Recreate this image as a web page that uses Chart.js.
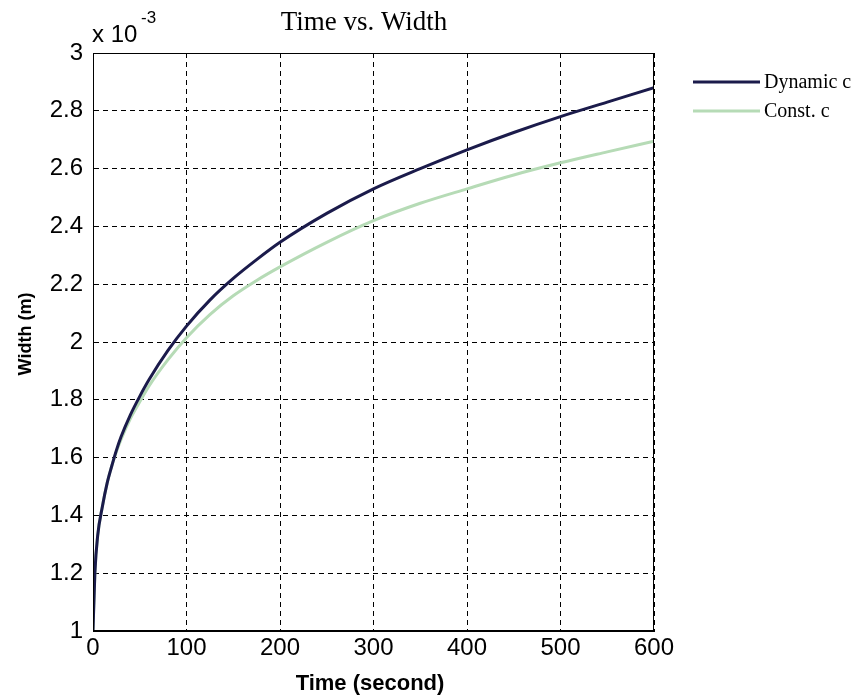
<!DOCTYPE html>
<html>
<head>
<meta charset="utf-8">
<script src="https://cdn.jsdelivr.net/npm/chart.js@4/dist/chart.umd.min.js"></script>
<style>
  html, body { margin: 0; padding: 0; background: #fff; }
  #wrap { width: 864px; height: 700px; }
</style>
</head>
<body>
<div id="wrap"><canvas id="width-chart" width="864" height="700"></canvas></div>
<script>
// time (second)
const timeSet = [0, 2, 5, 10, 15, 20, 25, 30, 40, 50, 60, 80, 100, 125, 150, 175, 200, 250, 300, 350, 400, 450, 500, 550, 600];
// width, in units of 1e-3 m
const dynamicSet = [1.0, 1.2, 1.33, 1.43, 1.51, 1.57, 1.625, 1.672, 1.748, 1.812, 1.87, 1.97, 2.055, 2.145, 2.22, 2.285, 2.345, 2.445, 2.53, 2.60, 2.665, 2.725, 2.78, 2.83, 2.88];
const constSet = [1.0, 1.2, 1.33, 1.43, 1.51, 1.57, 1.62, 1.663, 1.735, 1.793, 1.848, 1.938, 2.015, 2.095, 2.16, 2.213, 2.26, 2.345, 2.42, 2.48, 2.53, 2.578, 2.62, 2.658, 2.695];
const seriesLabels = ['Dynamic c', 'Const. c'];
const seriesColors = ['#1b1b4b', '#b6dbb6'];

const SANS = '"Liberation Sans", Arial, sans-serif';
const SERIF = '"Liberation Serif", "Times New Roman", serif';

function toPoints(ys) {
    return timeSet.map((t, i) => ({ x: t, y: ys[i] }));
}

// texts, box and legend drawn like the matlab figure
const figurePlugin = {
    id: 'figure',
    afterDraw(chart) {
        const ctx = chart.ctx;
        const a = chart.chartArea;
        ctx.save();
        // box
        ctx.strokeStyle = '#000';
        ctx.lineWidth = 1;
        ctx.setLineDash([]);
        ctx.strokeRect(a.left + 0.5, a.top + 0.5, a.right - a.left - 1, a.bottom - a.top - 1);

        ctx.fillStyle = '#000';
        // title
        ctx.font = '27px ' + SERIF;
        ctx.textAlign = 'center';
        ctx.textBaseline = 'alphabetic';
        ctx.fillText('Time vs. Width', 364, 30);

        // exponent
        ctx.textAlign = 'left';
        ctx.font = '24px ' + SANS;
        ctx.fillText('x 10', 92, 42);
        ctx.font = '17px ' + SANS;
        ctx.fillText('-3', 141, 23);

        // axis titles
        ctx.font = 'bold 22px ' + SANS;
        ctx.textAlign = 'center';
        ctx.fillText('Time (second)', 370, 690);
        ctx.save();
        ctx.translate(31, 334);
        ctx.rotate(-Math.PI / 2);
        ctx.font = 'bold 18px ' + SANS;
        ctx.fillText('Width (m)', 0, 0);
        ctx.restore();

        // legend
        ctx.font = '20px ' + SERIF;
        ctx.textAlign = 'left';
        ctx.textBaseline = 'middle';
        const ly = [82, 111];
        seriesLabels.forEach((lab, i) => {
            ctx.strokeStyle = seriesColors[i];
            ctx.lineWidth = 3;
            ctx.beginPath();
            ctx.moveTo(693, ly[i]);
            ctx.lineTo(760, ly[i]);
            ctx.stroke();
            ctx.fillText(lab, 764, ly[i] + 1);
        });
        ctx.restore();
    }
};

let ctx = document.getElementById('width-chart');
new Chart(ctx, {
    type: 'line',
    data: {
        datasets: [
            {
                label: seriesLabels[0],
                data: toPoints(dynamicSet),
                borderColor: seriesColors[0],
                borderWidth: 3,
                pointRadius: 0,
                fill: false,
                cubicInterpolationMode: 'monotone'
            },
            {
                label: seriesLabels[1],
                data: toPoints(constSet),
                borderColor: seriesColors[1],
                borderWidth: 3,
                pointRadius: 0,
                fill: false,
                cubicInterpolationMode: 'monotone'
            }
        ]
    },
    options: {
        responsive: false,
        animation: false,
        layout: { padding: { left: 0, top: 53, right: 210, bottom: 0 } },
        plugins: {
            legend: { display: false },
            title: { display: false },
            tooltip: { enabled: false }
        },
        scales: {
            x: {
                type: 'linear',
                min: 0,
                max: 600,
                ticks: {
                    stepSize: 100,
                    color: '#000',
                    font: { family: SANS, size: 24 },
                    padding: 3,
                    maxRotation: 0
                },
                grid: { color: '#000', lineWidth: 1, drawTicks: false },
                border: { display: true, color: '#000', width: 1, dash: [5, 4] },
                afterFit(scale) { scale.height = 69; }
            },
            y: {
                min: 1,
                max: 3,
                ticks: {
                    stepSize: 0.2,
                    color: '#000',
                    font: { family: SANS, size: 24 },
                    padding: 10,
                    callback: v => String(Number(v.toFixed(1)))
                },
                grid: { color: '#000', lineWidth: 1, drawTicks: false },
                border: { display: true, color: '#000', width: 1, dash: [5, 4] },
                afterFit(scale) { scale.width = 93; }
            }
        }
    },
    plugins: [figurePlugin]
});
</script>
</body>
</html>
